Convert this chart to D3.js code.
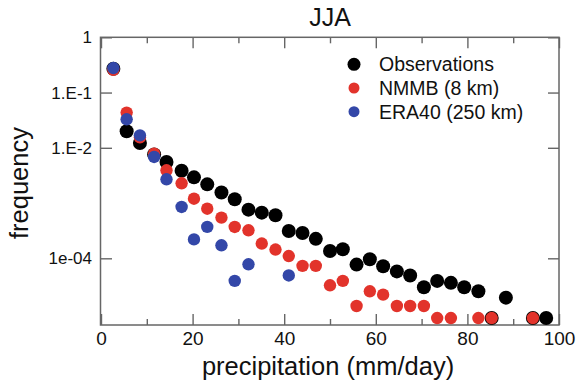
<!DOCTYPE html>
<html><head><meta charset="utf-8">
<script src="https://cdn.jsdelivr.net/npm/d3@7"></script>
<style>
html,body{margin:0;padding:0;background:#fff;}
svg{display:block;font-family:"Liberation Sans",Arial,Helvetica,sans-serif;}
</style></head>
<body>
<svg id="chart" width="577" height="387"></svg>
<script>
// ---- data ----
const precip = [2.7,5.6,8.5,11.6,14.3,17.6,20.3,23.2,26.3,29.2,32.2,35.1,38.1,41.0,44.0,46.9,50.0,52.8,55.8,58.7,61.6,64.6,67.5,70.5,73.4,76.4,79.3,82.4,85.3,88.4,91.3,94.3,97.2];
const observations = [0.27,0.0199,0.0122,0.0076,0.00553,0.00384,0.00292,0.00218,0.00155,0.00117,0.00076,0.00067,0.0006,0.000312,0.000287,0.000225,0.000136,0.000146,7.7e-5,9.6e-5,7.2e-5,5.8e-5,4.9e-5,3.0e-5,3.9e-5,3.6e-5,3.0e-5,2.53e-5,8.3e-6,1.94e-5,null,8.3e-6,8.3e-6];
const nmmb = [0.258,0.0434,0.0155,0.00785,0.00392,0.00228,0.0012,0.00079,0.000546,0.000369,0.000321,0.000185,0.000144,0.00011,7.3e-5,7.3e-5,3.25e-5,3.9e-5,1.37e-5,2.53e-5,2.2e-5,1.37e-5,1.37e-5,1.37e-5,8.3e-6,8.3e-6,null,8.3e-6,8.3e-6,null,null,8.3e-6,null];
const era40 = [0.278,0.0328,0.0168,0.00682,0.00269,0.00085,0.00022,0.00037,0.000172,3.9e-5,7.8e-5,null,null,4.9e-5,null,null,null,null,null,null,null,null,null,null,null,null,null,null,null,null,null,null,null];
const seriesNames = ["Observations","NMMB (8 km)","ERA40 (250 km)"];
const seriesColors = ["#000000","#e2332b","#3347a8"];
const xMajorTicks = [0,20,40,60,80,100];
const xMinorTicks = [10,30,50,70,90];
const yTickValues = [1,0.1,0.01,1e-4];
const yTickLabels = ["1","1.E-1","1.E-2","1e-04"];

// ---- layout ----
const svg = d3.select("#chart");
const L=101, R=559, T=37.3, B=325;
const x = d3.scaleLinear().domain([0,100]).range([L,R]);
const y = d3.scaleLog().domain([Math.pow(10,-5.207),1]).range([B,T]);
const axisColor = "#666";

function styleAxis(g){
  g.select(".domain").remove();
  g.selectAll(".tick line").attr("stroke",axisColor).attr("stroke-width",1.4);
  g.selectAll(".tick text").attr("fill","#111").attr("font-family",'"Liberation Sans",Arial,sans-serif');
}

// bottom axes
svg.append("g").attr("transform",`translate(0,${B})`)
  .call(d3.axisBottom(x).tickValues(xMajorTicks).tickSizeInner(-11).tickSizeOuter(0).tickPadding(6.5).tickFormat(d3.format("d")))
  .call(styleAxis).call(g=>g.selectAll("text").attr("font-size",19));
svg.append("g").attr("transform",`translate(0,${B})`)
  .call(d3.axisBottom(x).tickValues(xMinorTicks).tickSizeInner(-6).tickSizeOuter(0).tickFormat(""))
  .call(styleAxis);
// top axes
svg.append("g").attr("transform",`translate(0,${T})`)
  .call(d3.axisTop(x).tickValues(xMajorTicks).tickSizeInner(-11).tickSizeOuter(0).tickFormat(""))
  .call(styleAxis);
svg.append("g").attr("transform",`translate(0,${T})`)
  .call(d3.axisTop(x).tickValues(xMinorTicks).tickSizeInner(-6).tickSizeOuter(0).tickFormat(""))
  .call(styleAxis);
// left axis
svg.append("g").attr("transform",`translate(${L},0)`)
  .call(d3.axisLeft(y).tickValues(yTickValues).tickSizeInner(-11).tickSizeOuter(0).tickPadding(9)
    .tickFormat((d,i)=>yTickLabels[i]))
  .call(styleAxis).call(g=>g.selectAll("text").attr("font-size",17));
// right axis
svg.append("g").attr("transform",`translate(${R},0)`)
  .call(d3.axisRight(y).tickValues(yTickValues).tickSizeInner(-11).tickSizeOuter(0).tickFormat(""))
  .call(styleAxis);

// frame
svg.append("rect").attr("x",L-0.5).attr("y",T).attr("width",R-L+0.5).attr("height",B-T)
  .attr("fill","none").attr("stroke",axisColor).attr("stroke-width",1.5);

// points
const seriesData = [observations,nmmb,era40];
const radii = [7,6.2,6.2];
seriesData.forEach((vals,si)=>{
  const pts = precip.map((p,i)=>({p, v:vals[i]})).filter(d=>d.v!=null);
  svg.append("g").selectAll("circle").data(pts).join("circle")
    .attr("cx",d=>x(d.p)).attr("cy",d=>y(d.v)).attr("r",radii[si])
    .attr("fill",seriesColors[si]);
});

// title
svg.append("text").attr("x",330).attr("y",26).attr("text-anchor","middle")
  .attr("font-size",25).attr("fill","#111").text("JJA");
// x label
svg.append("text").attr("x",328).attr("y",375).attr("text-anchor","middle")
  .attr("font-size",25.5).attr("fill","#111").text("precipitation (mm/day)");
// y label
svg.append("text").attr("transform","translate(27.5,183) rotate(-90)").attr("text-anchor","middle")
  .attr("font-size",25.5).attr("fill","#111").text("frequency");

// legend
const legendR = [6.5,5.5,5.5];
const leg = svg.append("g");
seriesNames.forEach((name,i)=>{
  const cy = 64.3 + i*23.7;
  leg.append("circle").attr("cx",354).attr("cy",cy).attr("r",legendR[i]).attr("fill",seriesColors[i]);
  leg.append("text").attr("x",379).attr("y",cy).attr("dy","0.36em").attr("font-size",19.5)
    .attr("fill","#111").text(name);
});
</script>
</body></html>
